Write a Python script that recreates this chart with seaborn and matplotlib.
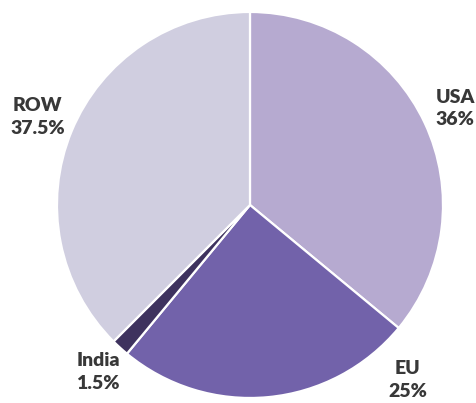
import matplotlib
matplotlib.use("Agg")
import matplotlib.pyplot as plt
import seaborn as sns
import numpy as np

sns.set_theme(style="white")
plt.rcParams["font.family"] = ["Lato", "DejaVu Sans"]

regions = ["USA", "EU", "India", "ROW"]
shares = [36, 25, 1.5, 37.5]
share_labels = ["36%", "25%", "1.5%", "37.5%"]
colors = ["#b6aad0", "#7262aa", "#3e325e", "#d0cee0"]

fig = plt.figure(figsize=(4.77, 4.03), dpi=100)
ax = fig.add_axes([0, 0, 1, 1])

wedges, _ = ax.pie(
    shares,
    colors=colors,
    startangle=90,
    counterclock=False,
    radius=1.0,
    wedgeprops=dict(edgecolor="white", linewidth=1.6),
)

# label placement: angle offset (deg) and distance from centre per slice
label_dist = [1.175, 1.22, 1.17, 1.19]
label_angle_shift = [0, 36.6, 0, 0]
for w, name, lab, d, shift in zip(wedges, regions, share_labels, label_dist, label_angle_shift):
    mid = np.deg2rad((w.theta1 + w.theta2) / 2 + shift)
    ax.text(d * np.cos(mid), d * np.sin(mid), f"{name}\n{lab}",
            ha="center", va="center", fontsize=14, fontweight="heavy",
            color="#383838", linespacing=1.4)

ax.set_xlim(-1.295, 1.176)
ax.set_ylim(-1.026, 1.062)
ax.set_aspect("equal")
ax.axis("off")

fig.savefig("out.png", dpi=100)
